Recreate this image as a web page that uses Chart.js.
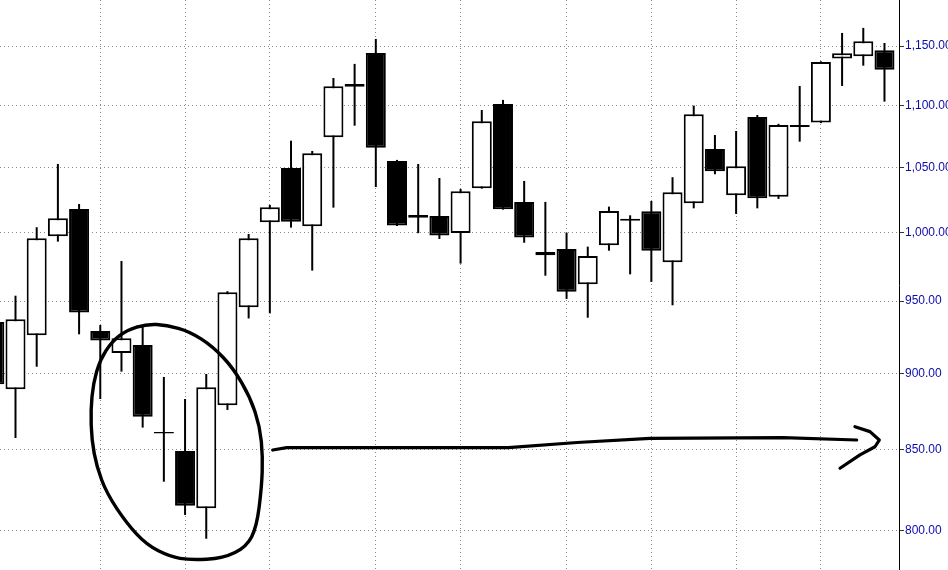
<!DOCTYPE html>
<html>
<head>
<meta charset="utf-8">
<script src="https://cdn.jsdelivr.net/npm/chart.js@4.4.1/dist/chart.umd.min.js"></script>
<style>
html,body{margin:0;padding:0;background:#fff;overflow:hidden}
#wrap{width:948px;height:570px;position:relative}
</style>
</head>
<body>
<div id="wrap"><canvas id="c"></canvas></div>
<script>
// ---- data (weekly candles, index 0..42) ----
const weeks = [0,1,2,3,4,5,6,7,8,9,10,11,12,13,14,15,16,17,18,19,20,21,22,23,24,25,26,27,28,29,30,31,32,33,34,35,36,37,38,39,40,41,42];
const opens = [935.3,889.4,926.0,997.3,1017.9,929.0,913.9,919.4,861.4,849.2,813.5,878.8,945.7,1007.8,1049.6,1004.8,1074.1,1117.8,1144.0,1055.2,1011.3,1012.6,999.8,1033.8,1101.2,1023.3,985.7,987.9,962.1,990.6,1010.5,1016.2,978.1,1022.3,1064.7,1028.4,1090.5,1027.3,1084.0,1085.9,1139.2,1141.2,1146.4];
const highs = [943.8,953.9,1004.1,1052.8,1021.7,933.2,979.0,931.8,897.6,882.9,899.6,957.1,999.0,1021.0,1071.3,1063.1,1122.8,1134.7,1156.1,1056.0,1052.8,1041.8,1033.3,1096.2,1104.5,1039.5,1023.3,1000.0,989.6,1019.7,1013.1,1024.0,1042.4,1099.8,1075.9,1079.1,1092.1,1084.9,1116.1,1136.9,1161.3,1165.7,1152.6];
const lows = [885.6,857.5,904.5,993.3,926.7,882.9,901.2,864.2,829.9,809.5,795.2,875.7,937.8,941.4,1003.8,972.0,1018.9,1083.4,1034.8,1005.0,999.6,995.3,977.1,1033.5,1017.4,992.5,968.3,951.6,938.3,986.6,969.3,963.8,947.1,1018.4,1044.7,1014.1,1018.4,1025.6,1070.5,1085.5,1116.1,1133.2,1103.1];
const closes = [892.7,937.2,995.8,1010.8,941.9,922.5,924.0,871.3,860.4,815.1,890.7,956.4,995.8,1019.2,1008.3,1061.3,1115.9,1115.5,1065.7,1005.3,1013.3,997.8,1031.5,1087.0,1017.7,996.3,983.2,956.8,982.7,1016.4,1009.0,986.6,1030.7,1092.7,1047.1,1051.0,1026.1,1084.0,1082.4,1136.4,1143.8,1154.1,1129.8];

// month-start weeks (vertical grid lines)
const monthStarts = [5,9,13,18,22,27,31,35,39];

// price axis ticks
const yTicks = [800,850,900,950,1000,1050,1100,1150];
const yTickLabels = ['800.00','850.00','900.00','950.00','1,000.00','1,050.00','1,100.00','1,150.00'];

// hand-drawn annotations in (week index, price)
const circlePath = [[7.190,933.9],[8.134,933.2],[9.233,928.6],[10.318,918.2],[11.262,903.7],[12.064,884.4],[12.536,864.8],[12.663,845.6],[12.616,826.8],[12.380,802.4],[11.908,790.5],[10.804,783.6],[9.233,782.6],[8.289,784.6],[7.190,791.5],[6.247,804.4],[5.303,822.7],[4.831,839.3],[4.595,856.2],[4.548,875.7],[4.671,893.4],[4.987,909.1],[5.539,921.6],[6.247,929.7]];
const arrowShaft = [[13.135,849.8],[13.796,851.3],[24.251,851.3],[27.5,854.6],[30.936,857.3],[37.211,857.7],[40.689,856.2]];
const arrowHead = [[40.608,864.8],[41.316,861.6],[41.755,856.2],[41.552,851.9],[40.844,846.7],[39.901,838.3]];

// visible axis ranges
const X_MIN = 0.2687, X_MAX = 42.685;
const Y_MIN = 776.8, Y_MAX = 1190.3;

// ---- build datasets ----
const bodyData = weeks.map(i => ({x: i, y: [opens[i], closes[i]]}));
const wickData = weeks.map(i => ({x: i, y: [lows[i], highs[i]]}));
const bodyColors = weeks.map(i => closes[i] >= opens[i] ? '#ffffff' : '#000000');

// narrow label font if installed, else regular
function pickLabelFont() {
  const c = document.createElement('canvas').getContext('2d');
  c.font = '13px "Liberation Sans Narrow", monospace';
  const a = c.measureText('950.00').width;
  c.font = '13px monospace';
  const b = c.measureText('950.00').width;
  if (Math.abs(a - b) > 0.5) return { family: '"Liberation Sans Narrow"', size: 13 };
  return { family: '"Liberation Sans", Arial, sans-serif', size: 12 };
}
const labelFont = pickLabelFont();

function smoothClosed(ctx, pts) {
  const n = pts.length;
  const mid = (a, b) => [(a[0] + b[0]) / 2, (a[1] + b[1]) / 2];
  ctx.beginPath();
  let m = mid(pts[n - 1], pts[0]);
  ctx.moveTo(m[0], m[1]);
  for (let i = 0; i < n; i++) {
    const p = pts[i], q = pts[(i + 1) % n];
    const mm = mid(p, q);
    ctx.quadraticCurveTo(p[0], p[1], mm[0], mm[1]);
  }
  ctx.stroke();
}
function polyline(ctx, pts) {
  ctx.beginPath();
  ctx.moveTo(pts[0][0], pts[0][1]);
  for (let i = 1; i < pts.length; i++) ctx.lineTo(pts[i][0], pts[i][1]);
  ctx.stroke();
}

const handDrawn = {
  id: 'handDrawn',
  afterDatasetsDraw(chart) {
    const {ctx, scales: {x, y}} = chart;
    const toPx = p => [x.getPixelForValue(p[0]), y.getPixelForValue(p[1])];
    ctx.save();
    ctx.strokeStyle = '#000';
    ctx.lineCap = 'round';
    ctx.lineJoin = 'round';
    ctx.lineWidth = 3.4;
    smoothClosed(ctx, circlePath.map(toPx));
    ctx.lineWidth = 3.2;
    polyline(ctx, arrowShaft.map(toPx));
    polyline(ctx, arrowHead.map(toPx));
    ctx.restore();
  }
};

new Chart(document.getElementById('c'), {
  type: 'bar',
  data: {
    datasets: [
      {
        label: 'Body',
        data: bodyData,
        grouped: false,
        order: 1,
        barThickness: 20,
        backgroundColor: bodyColors,
        borderColor: '#000000',
        borderWidth: 2,
        borderSkipped: false,
        inflateAmount: 0
      },
      {
        label: 'Wick',
        data: wickData,
        grouped: false,
        order: 2,
        barThickness: 2,
        backgroundColor: '#000000',
        borderWidth: 0,
        inflateAmount: 0
      }
    ]
  },
  options: {
    responsive: true,
    maintainAspectRatio: false,
    animation: false,
    layout: { padding: 0 },
    plugins: { legend: { display: false }, tooltip: { enabled: false }, title: { display: false } },
    scales: {
      x: {
        type: 'linear',
        min: X_MIN, max: X_MAX,
        bounds: 'data',
        offset: false,
        afterBuildTicks: s => { s.ticks = monthStarts.map(v => ({value: v})); },
        afterFit: s => { s.height = 0; s.paddingLeft = 0; s.paddingRight = 0; },
        ticks: { display: false },
        grid: { color: '#8a8a8a', lineWidth: 1, drawTicks: false, offset: false },
        border: { display: false, dash: [1, 3] }
      },
      y: {
        type: 'logarithmic',
        position: 'right',
        min: Y_MIN, max: Y_MAX,
        bounds: 'data',
        afterBuildTicks: s => { s.ticks = yTicks.map(v => ({value: v})); },
        afterFit: s => { s.width = 49; s.paddingTop = 0; s.paddingBottom = 0; },
        ticks: {
          autoSkip: false,
          padding: 1,
          color: '#0c0ca8',
          font: labelFont,
          callback: v => { const i = yTicks.indexOf(v); return i >= 0 ? yTickLabels[i] : ''; }
        },
        grid: { color: '#8a8a8a', lineWidth: 1, drawTicks: true, tickLength: 5, tickColor: '#333', tickBorderDash: [] },
        border: { display: true, color: '#000', width: 1, dash: [1, 3] }
      }
    }
  },
  plugins: [handDrawn]
});
</script>
</body>
</html>
